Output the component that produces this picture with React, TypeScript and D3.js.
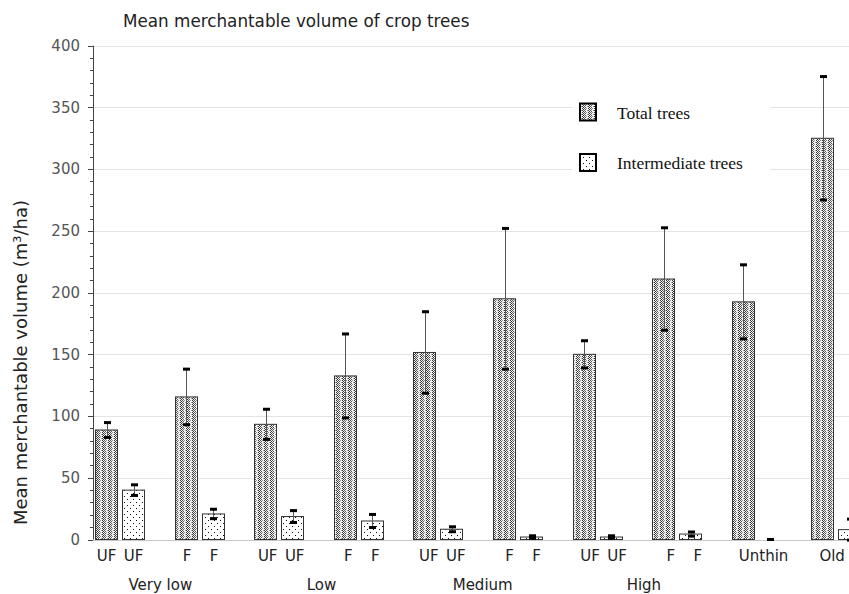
import React from "react";
import * as d3 from "d3";

const W = 849;
const H = 594;

// Stands: density class x thinning treatment, plus unthinned and old-growth references
const standIds = ["VL-UF", "VL-F", "L-UF", "L-F", "M-UF", "M-F", "H-UF", "H-F", "Unthin", "Old"];
const thinningLabels = ["UF", "F", "UF", "F", "UF", "F", "UF", "F", "Unthin", "Old"];
const densityClasses = ["Very low", "Low", "Medium", "High"];

// Mean merchantable volume (m3/ha) and standard error
const totalMean = [88.7, 115.5, 93.3, 132.5, 151.5, 195, 150, 211, 192.5, 325];
const totalSE = [6, 22.5, 12.2, 34, 33, 57, 11, 41.5, 30, 50];
const interMean = [40, 20.7, 18.6, 15, 8.3, 2, 2, 4.4, 0, 8];
const interSE = [4.3, 3.8, 4.8, 5.3, 2, 1, 1, 1.7, 0, 8.5];

const seriesKeys = ["total", "inter"];
const seriesNames = ["Total trees", "Intermediate trees"];
const yMajorTicks = [0, 50, 100, 150, 200, 250, 300, 350, 400];

const SANS = "'DejaVu Sans', Verdana, sans-serif";
const SERIF = "'Liberation Serif', 'Times New Roman', serif";

export default function App() {
  const left = 93;
  const y = d3.scaleLinear().domain([0, 400]).range([539.5, 45.7]);
  const x = d3.scaleBand<string>().domain(standIds).range([left, left + 79.6 * standIds.length]);
  const inner = d3.scaleBand<string>().domain(seriesKeys).range([2, 52]).paddingInner(4 / 27);
  const labelX = d3.scaleBand<string>().domain(standIds).range([left, left + 80.6 * standIds.length]);
  const minorTicks = d3.range(0, 401, 10);

  const series = [
    { key: "total", mean: totalMean, se: totalSE, fill: "url(#patTotal)" },
    { key: "inter", mean: interMean, se: interSE, fill: "url(#patInter)" },
  ];

  const bw = inner.bandwidth();

  // stipple for the total-tree bars: checker columns with a lighter column pair
  const totalDots: [number, number, string][] = [
    [0, 0, "#333"], [0, 2, "#333"], [1, 1, "#333"], [1, 3, "#333"],
    [2, 0, "#555"], [2, 2, "#555"], [3, 1, "#555"], [3, 3, "#555"],
    [4, 0, "#999"], [5, 2, "#999"],
  ];

  return (
    <svg
      width={W}
      height={H}
      viewBox={`0 0 ${W} ${H}`}
      style={{ position: "absolute", left: 0, top: 0, background: "#fff" }}
    >
      <defs>
        <pattern id="patTotal" width={6} height={4} patternUnits="userSpaceOnUse">
          <rect width={6} height={4} fill="#f2f2f2" />
          {totalDots.map(([dx, dy, c], k) => (
            <rect key={k} x={dx} y={dy} width={1} height={1} fill={c} />
          ))}
        </pattern>
        <pattern id="patInter" width={6} height={6} patternUnits="userSpaceOnUse">
          <rect width={6} height={6} fill="#ffffff" />
          <rect x={1} y={1} width={1} height={1} fill="#111" />
          <rect x={4} y={4} width={1} height={1} fill="#111" />
        </pattern>
      </defs>

      {/* Title */}
      <text x={123} y={27} fontFamily={SANS} fontSize={16.8} fill="#222">
        Mean merchantable volume of crop trees
      </text>

      {/* Gridlines */}
      {yMajorTicks.map((t) => (
        <line
          key={"g" + t}
          x1={left}
          x2={W}
          y1={Math.round(y(t)) + 0.5}
          y2={Math.round(y(t)) + 0.5}
          stroke={t === 0 ? "#c8c8c8" : "#e4e4e4"}
          strokeWidth={1}
        />
      ))}

      {/* Legend background */}
      <rect x={572} y={82} width={198} height={104} fill="#fff" />

      {/* Y axis */}
      <line x1={left + 0.5} x2={left + 0.5} y1={y(400)} y2={y(0)} stroke="#444" />
      {minorTicks.map((t) => (
        <line
          key={"m" + t}
          x1={t % 50 === 0 ? left - 5 : left - 3}
          x2={left}
          y1={Math.round(y(t)) + 0.5}
          y2={Math.round(y(t)) + 0.5}
          stroke="#444"
        />
      ))}
      {yMajorTicks.map((t) => (
        <text
          key={"t" + t}
          x={80}
          y={y(t) + 5.3}
          textAnchor="end"
          fontFamily={SANS}
          fontSize={15}
          fill="#555"
        >
          {t}
        </text>
      ))}
      <text
        transform={`translate(27,362.5) rotate(-90)`}
        textAnchor="middle"
        fontFamily={SANS}
        fontSize={18}
        fill="#222"
      >
        Mean merchantable volume (m³/ha)
      </text>

      {/* Bars */}
      {series.map((s) =>
        standIds.map((id, i) => {
          const x0 = Math.round((x(id) ?? 0) + (inner(s.key) ?? 0));
          const top = y(s.mean[i]);
          const h = y(0) - top;
          return h > 0 ? (
            <rect
              key={s.key + id}
              x={x0 + 0.5}
              y={top}
              width={bw - 1}
              height={h}
              fill={s.fill}
              stroke="#333"
              strokeWidth={1}
            />
          ) : null;
        })
      )}

      {/* Error bars: mean ± SE */}
      {series.map((s) =>
        standIds.map((id, i) => {
          const cx = Math.round((x(id) ?? 0) + (inner(s.key) ?? 0) + bw / 2);
          const hi = y(s.mean[i] + s.se[i]);
          const lo = y(s.mean[i] - s.se[i]);
          return (
            <g key={"e" + s.key + id}>
              <line x1={cx + 0.5} x2={cx + 0.5} y1={hi} y2={lo} stroke="#555" strokeWidth={1} />
              <rect x={cx - 3} y={hi - 1.5} width={7} height={3} fill="#000" />
              <rect x={cx - 3} y={lo - 1.5} width={7} height={3} fill="#000" />
            </g>
          );
        })
      )}

      {/* Thinning labels */}
      {standIds.map((id, i) => {
        const gx = labelX(id) ?? 0;
        if (i >= 8) {
          return (
            <text key={"l" + id} x={gx + 1} y={561} fontFamily={SANS} fontSize={15} fill="#222">
              {thinningLabels[i]}
            </text>
          );
        }
        return seriesKeys.map((k) => (
          <text
            key={"l" + id + k}
            x={gx + (inner(k) ?? 0) + bw / 2}
            y={561}
            textAnchor="middle"
            fontFamily={SANS}
            fontSize={15}
            fill="#222"
          >
            {thinningLabels[i]}
          </text>
        ));
      })}

      {/* Density class labels */}
      {densityClasses.map((c, j) => {
        const a = labelX(standIds[2 * j]) ?? 0;
        const b = (labelX(standIds[2 * j + 1]) ?? 0) + (inner("inter") ?? 0) + bw;
        return (
          <text
            key={"c" + c}
            x={(a + 2 + b) / 2}
            y={590}
            textAnchor="middle"
            fontFamily={SANS}
            fontSize={15}
            fill="#222"
          >
            {c}
          </text>
        );
      })}

      {/* Legend */}
      {seriesNames.map((name, k) => {
        const base = 118.5 + k * 50.5;
        return (
          <g key={"lg" + k}>
            <rect
              x={580}
              y={base - 15}
              width={16}
              height={17}
              fill={k === 0 ? "url(#patTotal)" : "url(#patInter)"}
              stroke="#000"
              strokeWidth={2}
            />
            <text x={617} y={base} fontFamily={SERIF} fontSize={17.5} fill="#111">
              {name}
            </text>
          </g>
        );
      })}
    </svg>
  );
}
